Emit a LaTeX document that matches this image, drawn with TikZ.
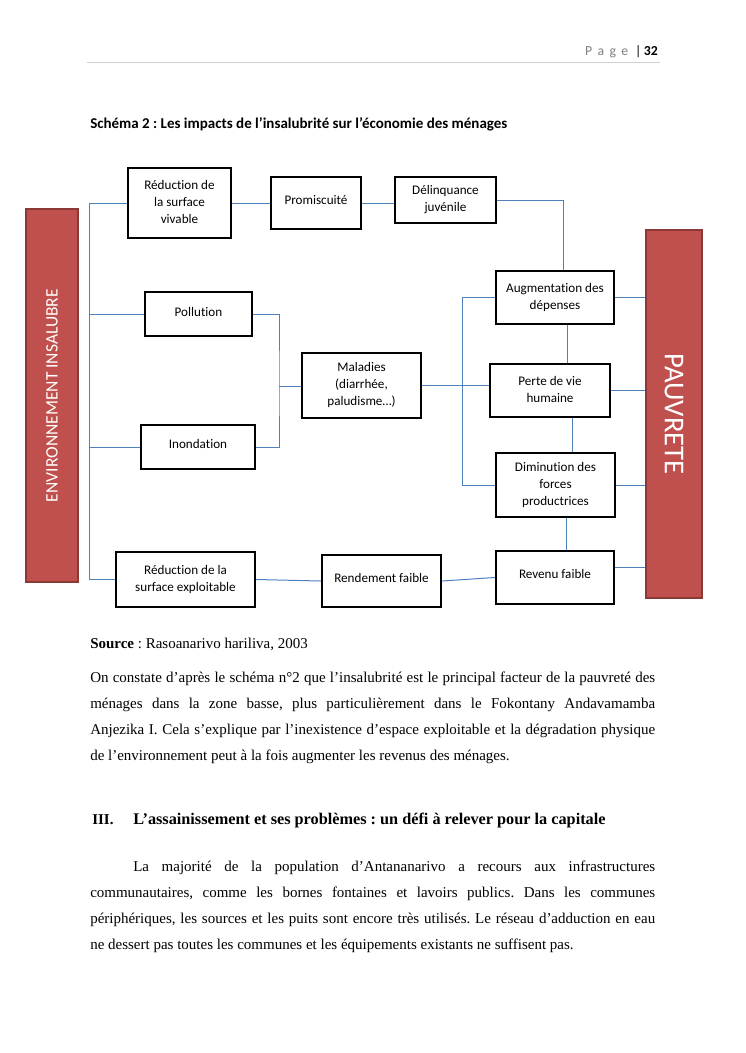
\documentclass[tikz,border=0pt]{standalone}
\usepackage{fontspec}
\setmainfont{Liberation Serif}
\newfontfamily\calfont[Ligatures=NoCommon]{Carlito}
\newfontfamily\calsp[LetterSpace=40,Ligatures=NoCommon]{Carlito}
\usetikzlibrary{calc}
\definecolor{barred}{HTML}{C0504D}
\definecolor{barline}{HTML}{8C3836}
\definecolor{linkblue}{HTML}{4F81BD}
\tikzset{
 box/.style={draw=black, line width=1.8pt, fill=white, inner sep=0pt, font=\calfont\fontsize{10.5}{13.6}\selectfont},
 bar/.style={draw=barline, line width=1.4pt, fill=barred, inner sep=0pt, text=white},
 link/.style={draw=linkblue, line width=0.8pt},
 txt/.style={inner sep=0pt, anchor=base west, font=\fontsize{12}{14}\selectfont},
}
\newcommand\bt[2]{\raisebox{#1}{\begin{tabular}{@{}c@{}}#2\end{tabular}}}
\newcommand\bx[7]{\node[box,minimum width={(#4-#2)*0.8pt},minimum height={(#5-#3)*0.8pt}] (#1) at ({(#2+#4)/2},{(#3+#5)/2}) {\bt{#6}{#7}};}
\newcommand\jl[1]{\makebox[452pt][s]{#1}}
\frenchspacing
\begin{document}
\begin{tikzpicture}[x=0.8pt,y=-0.8pt]
\fill[white] (0,0) rectangle (745,1053);
\useasboundingbox (0,0) rectangle (745,1053);
% header
\node[anchor=base east, inner sep=0pt, font=\calfont\fontsize{11}{13}\selectfont] (hdr) at (658,55) {{\color{gray}\calsp Page}\enspace|\,\textbf{32}};
\draw[black!18, line width=0.6pt] (87,62) -- (660,62);
\node[txt, font=\calfont\bfseries\fontsize{12}{14}\selectfont] (title) at (90,128) {Schéma 2 : Les impacts de l’insalubrité sur l’économie des ménages};
% bars
\node[bar, minimum width={52*0.8pt}, minimum height={373*0.8pt}, font=\calfont\fontsize{14}{16}\selectfont] (env) at (52,395.5) {\rotatebox{90}{ENVIRONNEMENT INSALUBRE}};
\node[bar, minimum width={56*0.8pt}, minimum height={368*0.8pt}, font=\calfont\fontsize{23}{27}\selectfont] (pau) at (674,414) {\rotatebox{-90}{PAUVRETE}};
% boxes
\bx{rsv}{128}{168}{231}{238}{5pt}{Réduction de\\la surface\\vivable}
\bx{prom}{271}{177}{361}{229}{7.6pt}{Promiscuité}
\bx{del}{395}{177}{496}{223}{1pt}{Délinquance\\juvénile}
\bx{aug}{496}{271}{614}{324}{5pt}{Augmentation des\\dépenses}
\bx{pol}{145}{292}{252}{336}{6pt}{Pollution}
\bx{ino}{141}{425}{255}{469}{7.6pt}{Inondation}
\bx{mal}{302}{353}{421}{418}{1pt}{Maladies\\(diarrhée,\\paludisme…)}
\bx{per}{490}{364}{610}{417}{4.4pt}{Perte de vie\\humaine}
\bx{dim}{496}{453}{615}{517}{0pt}{Diminution des\\forces\\productrices}
\bx{rex}{116}{552}{255}{607}{5.6pt}{Réduction de la\\surface exploitable}
\bx{ren}{322}{555}{441}{607}{7pt}{Rendement faible}
\bx{rev}{496}{551}{614}{604}{7.4pt}{Revenu faible}
% connectors
\coordinate (sL) at (89,0);
\draw[link] (rsv.west) -| (sL |- rex.west) -- (rex.west);
\draw[link] (pol.west) -- (pol.west -| sL);
\draw[link] (ino.west) -- (ino.west -| sL);
\draw[link] (rsv.east) -- (rsv.east -| prom.west);
\draw[link] (prom.east) -- (prom.east -| del.west);
\coordinate (xd) at (563,0);
\draw[link] (del.east) -| (xd |- aug.north);
\coordinate (jL) at (279,386);
\draw[link] (pol.east) -| (jL) |- (ino.east);
\draw[link] (jL) -- (jL -| mal.west);
\draw[link] (mal.east) -- (mal.east -| per.west);
\draw[link] (aug.west) -- ++(-32,0) |- (dim.west);
\coordinate (xa) at (567,0);
\draw[link] (xa |- aug.south) -- (xa |- per.north);
\coordinate (xp) at (572,0);
\draw[link] (xp |- per.south) -- (xp |- dim.north);
\coordinate (xr) at (566,0);
\draw[link] (xr |- dim.south) -- (xr |- rev.north);
\draw[link] (rev.west) -- (ren.east);
\draw[link] (rex.east) -- (ren.west);
\draw[link] (aug.east) -- (aug.east -| pau.west);
\draw[link] (per.east) -- (per.east -| pau.west);
\draw[link] (dim.east) -- (dim.east -| pau.west);
\coordinate (rv) at ($(rev.east)+(0,-10)$);
\draw[link] (rv) -- (rv -| pau.west);
% text
\node[txt] (src) at (90,648) {\textbf{Source} : Rasoanarivo hariliva, 2003};
\node[txt] (p1a) at (90,682) {\jl{On constate d’après le schéma n°2 que l’insalubrité est le principal facteur de la pauvreté des}};
\node[txt] (p1b) at (90,708) {\jl{ménages dans la zone basse, plus particulièrement dans le Fokontany Andavamamba}};
\node[txt] (p1c) at (90,734) {\jl{Anjezika I. Cela s’explique par l’inexistence d’espace exploitable et la dégradation physique}};
\node[txt] (p1d) at (90,760) {de l’environnement peut à la fois augmenter les revenus des ménages.};
\node[txt, font=\bfseries\fontsize{12}{14}\selectfont] (h3n) at (92,824) {III.};
\node[txt, font=\bfseries\fontsize{13}{15}\selectfont] (h3) at (133,824) {L’assainissement et ses problèmes : un défi à relever pour la capitale};
\node[txt] (p2a) at (133,871) {\makebox[417.6pt][s]{La majorité de la population d’Antananarivo a recours aux infrastructures}};
\node[txt] (p2b) at (90,897) {\jl{communautaires, comme les bornes fontaines et lavoirs publics. Dans les communes}};
\node[txt] (p2c) at (90,923) {\jl{périphériques, les sources et les puits sont encore très utilisés. Le réseau d’adduction en eau}};
\node[txt] (p2d) at (90,949) {ne dessert pas toutes les communes et les équipements existants ne suffisent pas.};
\end{tikzpicture}
\end{document}
